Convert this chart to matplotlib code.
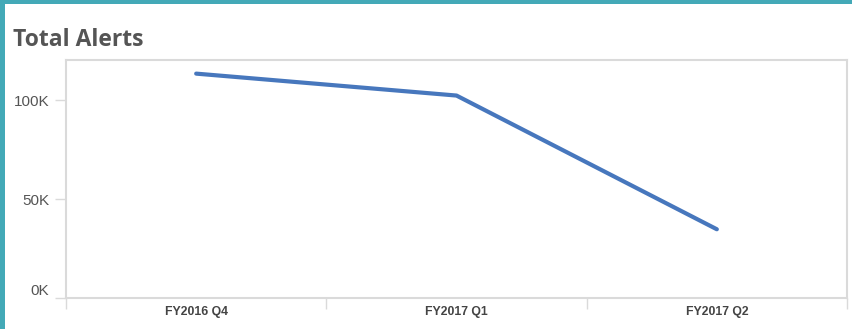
import matplotlib
matplotlib.use('Agg')
import matplotlib.pyplot as plt
from matplotlib.patches import Rectangle
from matplotlib.ticker import FuncFormatter

# Datos del gráfico
trimestres = ['FY2016 Q4', 'FY2017 Q1', 'FY2017 Q2']
alertas = [113600, 102500, 34800]
y_ticks = [0, 50000, 100000]

fig = plt.figure(figsize=(8.52, 3.29), dpi=100)
fig.patch.set_facecolor('#43a9b7')
# Panel blanco sobre el fondo turquesa
fig.patches.append(Rectangle((5 / 852, 0), 1, 1 - 4 / 329, transform=fig.transFigure,
                             facecolor='white', edgecolor='none', zorder=-5))

ax = fig.add_axes([66 / 852, 1 - 298 / 329, (847 - 66) / 852, (298 - 60) / 329])
ax.set_zorder(2)
ax.set_facecolor('white')

x = [i + 0.5 for i in range(len(trimestres))]
ax.plot(x, alertas, color='#4777bd', linewidth=3.0, solid_capstyle='round',
        solid_joinstyle='round', zorder=3)

ax.set_xlim(0, len(trimestres))
ax.set_ylim(0, 120500)

# Bordes grises claros
for s in ax.spines.values():
    s.set_color('#dadada')
    s.set_linewidth(1.5)

# Eje X: etiquetas centradas, marcas en los límites de cada categoría
ax.set_xticks(x)
ax.set_xticklabels(trimestres, fontsize=8.8, fontweight='bold', color='#444444',
                   family='Liberation Sans')
ax.tick_params(axis='x', length=0, pad=6)
ax.set_xticks(range(len(trimestres) + 1), minor=True)
ax.tick_params(axis='x', which='minor', length=8, color='#dadada', width=1)

# Eje Y en miles
ax.set_yticks(y_ticks)
ax.yaxis.set_major_formatter(FuncFormatter(lambda v, p: f'{int(v / 1000)}K'))
ax.tick_params(axis='y', length=8, color='#dadada', width=1, pad=4,
               labelsize=11, labelcolor='#555555')
for lab in ax.get_yticklabels():
    lab.set_family('Liberation Sans')
ax.get_yticklabels()[0].set_verticalalignment('bottom')

fig.text(13 / 852, 1 - 40 / 329, 'Total Alerts', fontsize=16.5, fontweight='bold',
         color='#555555', family='Open Sans', va='center', ha='left')

fig.savefig('out.png', dpi=100, facecolor=fig.get_facecolor())
